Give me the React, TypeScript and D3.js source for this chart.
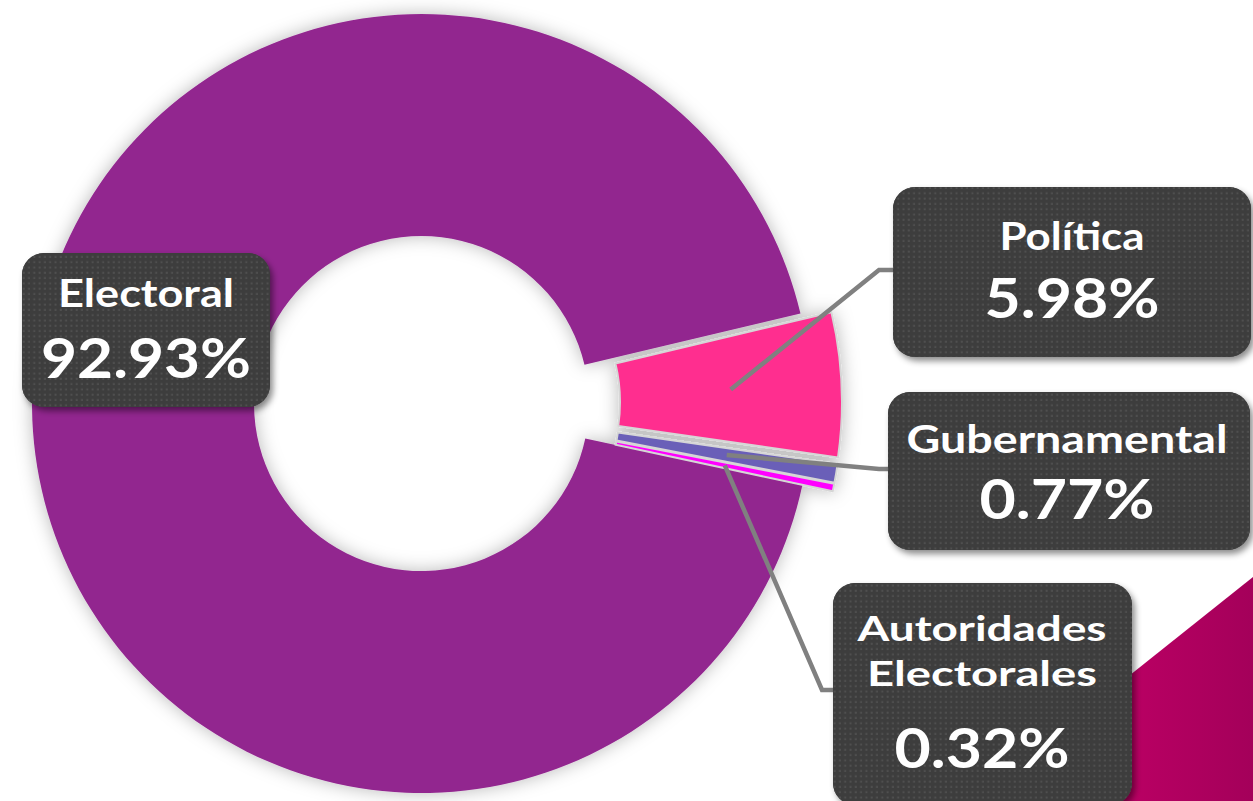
import React from "react";
import * as d3 from "d3";

const categories = ["Electoral", "Política", "Gubernamental", "Autoridades Electorales"];
const values = [92.93, 5.98, 0.77, 0.32];
const valueLabels = ["92.93%", "5.98%", "0.77%", "0.32%"];
const nameLines = [["Electoral"], ["Política"], ["Gubernamental"], ["Autoridades", "Electorales"]];
const colors = ["#92278F", "#FF2E8F", "#6A5FB8", "#FF00FF"];
const exploded = [false, true, true, true];

// label layout (box, text baselines, widths, leader elbow)
const boxes = [
  { x: 22, y: 253, w: 248, h: 154, cx: 146, lines: [307], lineW: [176], fs: 39, valY: 378, valW: 210, elbow: null },
  { x: 893, y: 187, w: 358, h: 170, cx: 1072, lines: [250], lineW: [145], fs: 39, valY: 318, valW: 175, elbow: [879, 270] },
  { x: 888, y: 392, w: 362, h: 158, cx: 1067, lines: [453], lineW: [321], fs: 39, valY: 519, valW: 175, elbow: [879, 469] },
  { x: 833, y: 583, w: 299, h: 222, cx: 982, lines: [641, 686], lineW: [249, 230], fs: 35, valY: 768, valW: 175, elbow: [822, 690] },
];

const W = 1253, H = 801;
const cx = 421.5, cy = 403.5, R = 389.5, r = 167.5;
const explodeDist = 31;
const startDeg = 102.1;

export default function App() {
  const pie = d3.pie<number>().sort(null).value((d) => d)
    .startAngle((startDeg * Math.PI) / 180)
    .endAngle((startDeg * Math.PI) / 180 + 2 * Math.PI);
  const arcs = pie(values);
  const arc = d3.arc<d3.PieArcDatum<number>>().innerRadius(r).outerRadius(R);
  const font = "Lato, 'Open Sans', sans-serif";

  const slices = arcs.map((a, i) => {
    const mid = (a.startAngle + a.endAngle) / 2;
    const off = exploded[i] ? explodeDist : 0;
    const dx = Math.sin(mid) * off;
    const dy = -Math.cos(mid) * off;
    const c = arc.centroid(a);
    return { a, i, dx, dy, c: [c[0] + dx + cx, c[1] + dy + cy] };
  });

  return (
    <div style={{ position: "absolute", left: 0, top: 0 }}>
      <svg width={W} height={H} style={{ display: "block", background: "#fff" }}>
        <defs>
          <filter id="glow" x="-20%" y="-20%" width="140%" height="140%">
            <feDropShadow dx="0" dy="0" stdDeviation="9" floodColor="#000" floodOpacity="0.28" />
          </filter>
          <filter id="boxShadow" x="-20%" y="-20%" width="140%" height="140%">
            <feDropShadow dx="3" dy="4" stdDeviation="3" floodColor="#000" floodOpacity="0.45" />
          </filter>
          <pattern id="dots" width="5.3" height="5.3" patternUnits="userSpaceOnUse">
            <rect width="5.3" height="5.3" fill="#3d3d3d" />
            <rect x="1.5" y="1.5" width="2" height="2" fill="#4f4f4f" />
          </pattern>
          <linearGradient id="corner" x1="0" x2="1" y1="0" y2="0">
            <stop offset="0" stopColor="#d4006f" />
            <stop offset="1" stopColor="#a4005a" />
          </linearGradient>
        </defs>

        <polygon points={`${W},577 ${W - 281},${H} ${W},${H}`} fill="url(#corner)" />

        <g filter="url(#glow)">
          {slices.map((s) => (
            <path
              key={s.i}
              d={arc(s.a) || ""}
              transform={`translate(${cx + s.dx},${cy + s.dy})`}
              fill={colors[s.i]}
              stroke={exploded[s.i] ? "#d6d6d6" : "none"}
              strokeWidth={exploded[s.i] ? 2 : 0}
            />
          ))}
        </g>

        {slices.map((s) => {
          const b = boxes[s.i];
          if (!b.elbow) return null;
          return (
            <polyline
              key={"l" + s.i}
              points={`${s.c[0]},${s.c[1]} ${b.elbow[0]},${b.elbow[1]} ${b.x + 2},${b.elbow[1]}`}
              fill="none"
              stroke="#808080"
              strokeWidth={4.5}
            />
          );
        })}

        {boxes.map((b, i) => (
          <g key={"b" + i}>
            <rect x={b.x} y={b.y} width={b.w} height={b.h} rx={22} ry={22} fill="#3d3d3d" filter="url(#boxShadow)" />
            <rect x={b.x} y={b.y} width={b.w} height={b.h} rx={22} ry={22} fill="url(#dots)" />
            {nameLines[i].map((t, j) => (
              <text
                key={j}
                x={b.cx}
                y={b.lines[j]}
                textAnchor="middle"
                fontFamily={font}
                fontWeight={700}
                fontSize={b.fs}
                fill="#fff"
                textLength={b.lineW[j]}
                lengthAdjust="spacingAndGlyphs"
              >
                {t}
              </text>
            ))}
            <text
              x={b.cx}
              y={b.valY}
              textAnchor="middle"
              fontFamily={font}
              fontWeight={700}
              fontSize={55}
              fill="#fff"
              textLength={b.valW}
              lengthAdjust="spacingAndGlyphs"
            >
              {valueLabels[i]}
            </text>
          </g>
        ))}
      </svg>
    </div>
  );
}
